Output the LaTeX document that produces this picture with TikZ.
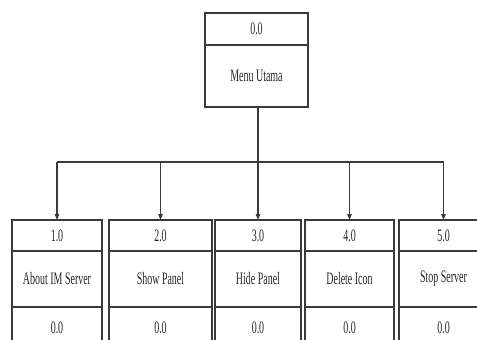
\documentclass[tikz,border=0pt]{standalone}
\usepackage{fontspec}
\setmainfont{Liberation Serif}
\newfontfamily\narrowserif[FakeStretch=0.57]{Liberation Serif}
\usetikzlibrary{arrows.meta}
\definecolor{ink}{HTML}{3A3A3A}
\tikzset{
  cell/.style={draw=ink, line width=1.1pt, rectangle, anchor=north west,
    inner sep=0pt, outer sep=0pt, text=black!85,
    font=\narrowserif\fontsize{17.5}{19}\selectfont},
  wire/.style={draw=ink, line width=1.1pt},
  arrowwire/.style={wire, -{Triangle[length=6pt,width=4.5pt]}},
}
\begin{document}
\begin{tikzpicture}[x=1pt, y=-1pt]
  \useasboundingbox (0,0) rectangle (477,340);
  \clip (0,0) rectangle (477,340);

  % root menu
  \node[cell, minimum width=103pt, minimum height=32pt] (rootnum) at (205,13) {0.0};
  \node[cell, minimum width=103pt, minimum height=62pt] (root) at (205,45) {Menu Utama};

  % child menus: number / name / parent number
  \foreach \k/\x/\w/\num/\name in {
      1/12/90/1.0/About IM Server,
      2/109/103/2.0/Show Panel,
      3/215/86/3.0/Hide Panel,
      4/305/89/4.0/Delete Icon,
      5/399/89/5.0/Stop Server} {
    \node[cell, minimum width=\w pt, minimum height=31pt] (c\k num) at (\x,220) {\num};
    \node[cell, minimum width=\w pt, minimum height=56pt] (c\k name) at (\x,251) {\name};
    \node[cell, minimum width=\w pt, minimum height=42pt] (c\k par) at (\x,307) {0.0};
  }

  % connector bus
  \coordinate (bus) at (258,162);
  \draw[wire] (root.south -| bus) -- (bus);
  \draw[wire] (c1num.north |- bus) -- (c5num.north |- bus);
  \foreach \k in {1,...,5} {
    \draw[arrowwire] (c\k num.north |- bus) -- (c\k num.north);
  }
\end{tikzpicture}
\end{document}
